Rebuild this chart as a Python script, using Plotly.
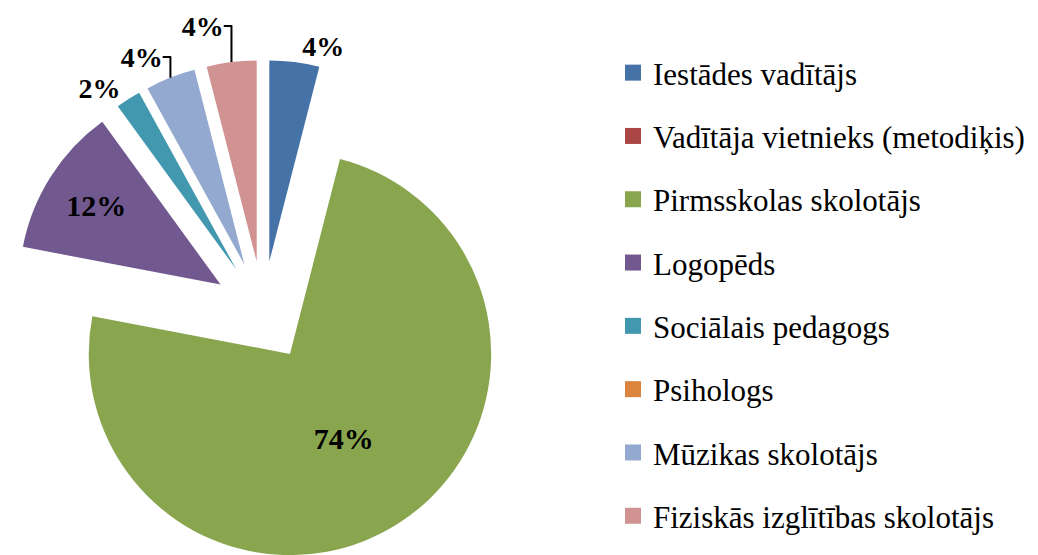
import plotly.graph_objects as go

# data (percent of respondents)
labels = ["Iestādes vadītājs", "Vadītāja vietnieks (metodiķis)", "Pirmsskolas skolotājs",
          "Logopēds", "Sociālais pedagogs", "Psihologs", "Mūzikas skolotājs",
          "Fiziskās izglītības skolotājs"]
values = [4, 0, 74, 12, 2, 0, 4, 4]
colors = ["#4572A7", "#AA4643", "#89A54E", "#71588F", "#4198AF", "#DB843D", "#93A9CF", "#D19392"]
text_pos = ["outside", "none", "inside", "inside", "outside", "none", "outside", "outside"]

W, H = 1038, 555
serif = "Liberation Serif"

fig = go.Figure()
fig.add_trace(go.Pie(labels=labels, values=values,
                     sort=False, direction="clockwise", rotation=0,
                     pull=0.25,
                     marker=dict(colors=colors, line=dict(width=0)),
                     texttemplate="<b>%{value}%</b>",
                     textposition=text_pos,
                     insidetextorientation="horizontal",
                     textfont=dict(family=serif, size=30, color="black"),
                     outsidetextfont=dict(family=serif, size=28, color="black"),
                     domain=dict(x=[0, 510 / W], y=[0, 1 - 52 / H]),
                     showlegend=False,
                     hoverinfo="label+percent"))

# legend entries (one per slice, so that the row spacing can be set)
for lab, col in zip(labels, colors):
    fig.add_trace(go.Scatter(x=[None], y=[None], mode="markers", name=lab,
                             legendgroup=lab,
                             marker=dict(symbol="square", size=16, color=col)))

fig.update_layout(width=W, height=H,
                  font=dict(family=serif, color="black"),
                  margin=dict(l=0, r=0, t=0, b=0, autoexpand=False),
                  paper_bgcolor="white", plot_bgcolor="white",
                  xaxis=dict(visible=False), yaxis=dict(visible=False),
                  legend=dict(x=605 / W, xanchor="left", y=1 - 38 / H, yanchor="top",
                              traceorder="grouped", tracegroupgap=20,
                              font=dict(family=serif, size=31, color="black"),
                              bgcolor="rgba(0,0,0,0)"))

fig.write_html("out.html")
